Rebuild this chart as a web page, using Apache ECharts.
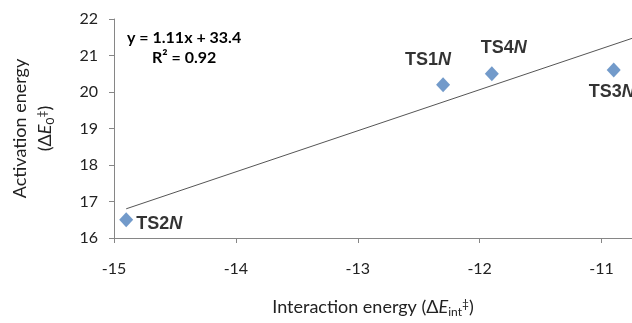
<!DOCTYPE html>
<html>
<head>
<meta charset="utf-8">
<script src="https://cdn.jsdelivr.net/npm/echarts@6/dist/echarts.min.js"></script>
<style>
  html, body { margin: 0; padding: 0; background: #fff; }
  #chart { width: 632px; height: 323px; }
</style>
</head>
<body>
<div id="chart"></div>
<script>
// transition states: interaction energy vs activation energy
const pointNames = ['TS1', 'TS4', 'TS3', 'TS2'];
const interactionE = [-12.3, -11.9, -10.9, -14.9];
const activationE = [20.2, 20.5, 20.6, 16.5];

// linear fit line (ends)
const trendX = [-14.9, -10.75];
const trendY = [16.8, 21.47];

const xTicks = [-15, -14, -13, -12, -11];
const yTicks = [16, 17, 18, 19, 20, 21, 22];

const fitText = 'y = 1.11x + 33.4';
const r2Text = 'R\u00B2 = 0.92';

// label placement for each point (offset from marker)
const labelOffsets = [[-15, -25], [12, -26], [-2, 22], [33, 4]];

const axisFont = 'Lato, "Open Sans", sans-serif';
const axisColor = '#868686';

const chart = echarts.init(document.getElementById('chart'));

const points = interactionE.map((x, i) => ({
  value: [x, activationE[i]],
  label: {
    show: true,
    position: 'inside',
    offset: labelOffsets[i],
    formatter: '{b|' + pointNames[i] + '}{i|N}',
    rich: {
      b: { fontFamily: '"Liberation Sans", Arial', fontWeight: 'bold', fontSize: 18, color: '#000' },
      i: { fontFamily: '"Liberation Sans", Arial', fontWeight: 'bold', fontStyle: 'italic', fontSize: 18, color: '#000' }
    }
  }
}));

const nameRich = {
  it: { fontSize: 18, fontStyle: 'italic', fontFamily: axisFont, color: '#222' },
  sub: { fontSize: 12, fontFamily: axisFont, color: '#222', padding: [9, 0, 0, 0] },
  sup: { fontSize: 12, fontFamily: axisFont, color: '#222', padding: [0, 0, 7, 0] }
};

const option = {
  animation: false,
  backgroundColor: '#fff',
  grid: { left: 106, right: 0, top: 19, bottom: 81 },
  xAxis: {
    type: 'value',
    min: xTicks[0],
    max: -10.75,
    interval: 1,
    splitLine: { show: false },
    axisLine: { show: true, lineStyle: { color: axisColor } },
    axisTick: { show: true, length: 5, lineStyle: { color: axisColor } },
    axisLabel: {
      margin: 23, fontSize: 16, color: '#222', fontFamily: axisFont,
      showMaxLabel: false,
      formatter: v => xTicks.includes(v) ? String(v) : ''
    },
    name: 'Interaction energy (\u0394{it|E}{sub|int}{sup|\u2021})',
    nameLocation: 'middle',
    nameGap: 59,
    nameTextStyle: { fontSize: 18, color: '#222', fontFamily: axisFont, rich: nameRich }
  },
  yAxis: {
    type: 'value',
    min: yTicks[0],
    max: yTicks[yTicks.length - 1],
    interval: 1,
    splitLine: { show: false },
    axisLine: { show: true, lineStyle: { color: axisColor } },
    axisTick: { show: true, length: 5, lineStyle: { color: axisColor } },
    axisLabel: { margin: 16, fontSize: 16, color: '#222', fontFamily: axisFont },
    name: 'Activation energy\n(\u0394{it|E}{sub|0}{sup|\u2021})',
    nameLocation: 'middle',
    nameGap: 56,
    nameRotate: 90,
    nameTextStyle: { fontSize: 18, color: '#222', fontFamily: axisFont, lineHeight: 25, rich: nameRich }
  },
  graphic: [
    {
      type: 'text', left: 127, top: 30,
      style: { text: fitText, font: 'bold 16px ' + axisFont, fill: '#000' }
    },
    {
      type: 'text', left: 152, top: 50,
      style: { text: r2Text, font: 'bold 16px ' + axisFont, fill: '#000' }
    }
  ],
  series: [
    {
      name: 'fit',
      type: 'line',
      data: trendX.map((x, i) => [x, trendY[i]]),
      symbol: 'none',
      lineStyle: { color: '#555', width: 1 },
      silent: true,
      z: 1
    },
    {
      name: 'TS',
      type: 'scatter',
      data: points,
      symbol: 'diamond',
      symbolSize: [14, 15],
      itemStyle: { color: '#4F81BD' },
      z: 2
    }
  ]
};

chart.setOption(option);
</script>
</body>
</html>
